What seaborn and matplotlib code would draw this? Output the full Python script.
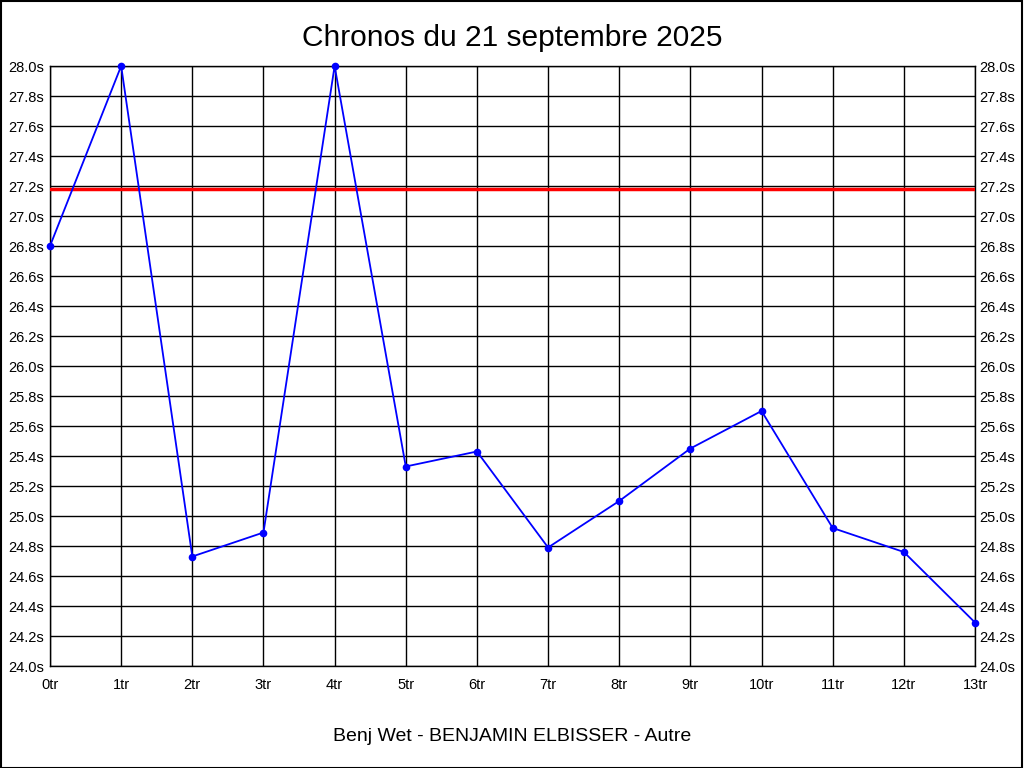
import matplotlib
matplotlib.use("Agg")
import matplotlib.pyplot as plt
import seaborn as sns
import numpy as np
import pandas as pd

# lap times (s), clipped at the 28.0s top of the chart
laps = list(range(14))
times = [26.80, 28.00, 24.73, 24.89, 28.00, 25.33, 25.43, 24.79, 25.10, 25.45, 25.70, 24.92, 24.76, 24.29]
reference_time = 27.18
title = "Chronos du 21 septembre 2025"
footer = "Benj Wet - BENJAMIN ELBISSER - Autre"

sns.set_style("white")
plt.rcParams['font.family'] = ['Liberation Sans', 'DejaVu Sans']
plt.rcParams['text.color'] = 'black'
plt.rcParams['xtick.color'] = 'black'
plt.rcParams['ytick.color'] = 'black'

df = pd.DataFrame({"tour": laps, "temps": times})

fig = plt.figure(figsize=(10.24, 7.68), dpi=100)
ax = fig.add_axes([50 / 1024, 102 / 768, 925 / 1024, 600 / 768])

yticks = np.round(np.arange(24.0, 28.01, 0.2), 1)
ax.set_xlim(0, 13)
ax.set_ylim(24.0, 28.0)
ax.set_xticks(laps)
ax.set_xticklabels([f"{i}tr" for i in laps], fontsize=10.5)
ax.set_yticks(yticks)
ax.set_yticklabels([f"{v:.1f}s" for v in yticks], fontsize=10.5)
ax.grid(True, color="black", linewidth=1)
ax.tick_params(axis="x", length=0, pad=8.5)
ax.tick_params(axis="y", length=0, pad=4)
for s in ax.spines.values():
    s.set_color("black")
    s.set_linewidth(1)

ax.axhline(reference_time, color="red", linewidth=2.5, zorder=3)
sns.lineplot(data=df, x="tour", y="temps", ax=ax, color="blue", linewidth=1.3,
             marker="o", markersize=5.5, markeredgewidth=0, zorder=4, clip_on=False)
ax.set_xlabel("")
ax.set_ylabel("")

ax2 = ax.twinx()
ax2.set_ylim(24.0, 28.0)
ax2.set_yticks(yticks)
ax2.set_yticklabels([f"{v:.1f}s" for v in yticks], fontsize=10.5)
ax2.tick_params(length=0, pad=3)
for s in ax2.spines.values():
    s.set_visible(False)

fig.text(0.5, 1 - 46 / 768, title, ha="center", va="baseline", fontsize=21.5)
fig.text(0.5, 1 - 741 / 768, footer, ha="center", va="baseline", fontsize=14)

border = plt.Rectangle((0.0005, 0.0005), 0.998, 0.998, transform=fig.transFigure,
                       fill=False, edgecolor="black", linewidth=1.5)
fig.patches.append(border)

fig.savefig("out.png", dpi=100)
